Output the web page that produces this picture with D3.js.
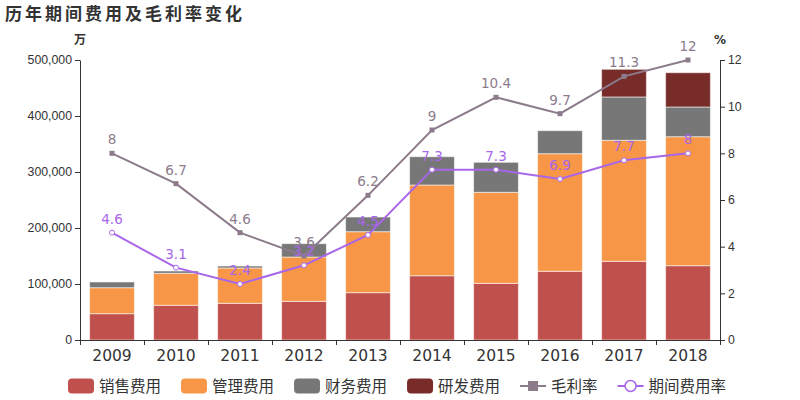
<!DOCTYPE html>
<html><head><meta charset="utf-8">
<script src="https://cdn.jsdelivr.net/npm/d3@7"></script>
<style>body{margin:0;background:#fff}svg{font-family:"DejaVu Sans","Noto Sans CJK SC",sans-serif}</style>
</head><body><svg id="c" width="800" height="400"></svg>
<script>
const years = ["2009","2010","2011","2012","2013","2014","2015","2016","2017","2018"];
const sales = [47000,62000,65500,69000,84500,114800,101200,122700,140500,132700];
const admin = [46400,57100,63100,79200,108900,162000,162500,210000,216100,230300];
const finance = [10200,4100,3500,23800,26200,50500,53600,41100,77400,53100];
const rnd = [0,0,0,0,0,0,0,0,49400,61200];
const grossMargin = [8,6.7,4.6,3.6,6.2,9,10.4,9.7,11.3,12];
const expenseRate = [4.6,3.1,2.4,3.2,4.5,7.3,7.3,6.9,7.7,8];
const leftTicks = [0,100000,200000,300000,400000,500000];
const rightTicks = [0,2,4,6,8,10,12];
const seriesNames = ["销售费用","管理费用","财务费用","研发费用"];
const seriesColors = ["#c0504d","#f79646","#777777","#772c2a"];
const lineNames = ["毛利率","期间费用率"];
const lineColors = ["#8b7b8b","#a866ea"];

const svg = d3.select("#c");
const L=80,R=720,T=60,B=340;
const x = d3.scaleBand().domain(years).range([L,R]).paddingInner(0.3).paddingOuter(0.15);
const y = d3.scaleLinear().domain([0,500000]).range([B,T]);
const y2 = d3.scaleLinear().domain([0,12]).range([B,T]);

svg.append("text").attr("x",5).attr("y",20).attr("font-size",17).attr("font-weight","bold")
  .attr("letter-spacing",3).attr("fill","#333").text("历年期间费用及毛利率变化");
svg.append("text").attr("x",80).attr("y",44).attr("text-anchor","middle").attr("font-size",12).attr("font-weight","bold").attr("fill","#333").text("万");
svg.append("text").attr("x",720).attr("y",44).attr("text-anchor","middle").attr("font-size",12).attr("font-weight","bold").attr("fill","#333").text("%");

// bars
const rows = years.map((yr,i)=>({year:yr,s0:sales[i],s1:admin[i],s2:finance[i],s3:rnd[i]}));
const stack = d3.stack().keys(["s0","s1","s2","s3"])(rows);
stack.forEach((layer,k)=>{
  svg.append("g").selectAll("rect").data(layer.filter(d=>d[1]-d[0]>0)).join("rect")
    .attr("x",d=>x(d.data.year)).attr("width",x.bandwidth())
    .attr("y",d=>y(d[1])).attr("height",d=>y(d[0])-y(d[1]))
    .attr("fill",seriesColors[k]).attr("stroke","#fff").attr("stroke-opacity",0.55).attr("stroke-width",1);
});

// axes
const ax = svg.append("g").attr("transform",`translate(0,${B})`)
  .call(d3.axisBottom(d3.scaleLinear().domain([0,10]).range([L,R])).ticks(10).tickFormat("").tickSizeOuter(0).tickSize(5));
ax.select(".domain").attr("stroke","#333");
ax.selectAll(".tick line").attr("stroke","#333");
svg.append("g").selectAll("text").data(years).join("text")
  .attr("x",d=>x(d)+x.bandwidth()/2).attr("y",361).attr("text-anchor","middle")
  .attr("font-size",15.5).attr("fill","#333").text(d=>d);

const ayl = svg.append("g").attr("transform",`translate(${L},0)`)
  .call(d3.axisLeft(y).tickValues(leftTicks).tickFormat(d3.format(",")).tickSize(5).tickSizeOuter(0));
ayl.selectAll("text").attr("font-size",12.3).attr("fill","#333").attr("font-family",null);
ayl.selectAll("line,.domain").attr("stroke","#333");
const ayr = svg.append("g").attr("transform",`translate(${R},0)`)
  .call(d3.axisRight(y2).tickValues(rightTicks).tickSize(5).tickSizeOuter(0));
ayr.selectAll("text").attr("font-size",12.3).attr("fill","#333").attr("font-family",null);
ayr.selectAll("line,.domain").attr("stroke","#333");

// lines
const cx = d=>x(d)+x.bandwidth()/2;
function drawLine(vals,color,marker){
  const pts = years.map((yr,i)=>[cx(yr),y2(vals[i]),vals[i]]);
  svg.append("path").datum(pts).attr("d",d3.line()).attr("fill","none").attr("stroke",color).attr("stroke-width",2);
  if(marker==="square"){
    svg.append("g").selectAll("rect").data(pts).join("rect")
      .attr("x",d=>d[0]-2.5).attr("y",d=>d[1]-2.5).attr("width",5).attr("height",5).attr("fill",color);
  } else {
    svg.append("g").selectAll("circle").data(pts).join("circle")
      .attr("cx",d=>d[0]).attr("cy",d=>d[1]).attr("r",2.5).attr("fill","#fff").attr("stroke",color).attr("stroke-width",1);
  }
  svg.append("g").selectAll("text").data(pts).join("text")
    .attr("x",d=>d[0]).attr("y",d=>d[1]-9).attr("text-anchor","middle")
    .attr("font-size",13.5).attr("fill",color).text(d=>d[2]);
}
drawLine(grossMargin,lineColors[0],"square");
drawLine(expenseRate,lineColors[1],"circle");

// legend
const lg = svg.append("g");
let lx = 68; const ly = 386;
seriesNames.forEach((n,i)=>{
  lg.append("rect").attr("x",lx).attr("y",ly-7.5).attr("width",26).attr("height",15).attr("rx",4).attr("fill",seriesColors[i]);
  const t = lg.append("text").attr("x",lx+31).attr("y",ly+5.5).attr("font-size",15.5).attr("fill","#333").text(n);
  lx += 31 + t.node().getComputedTextLength() + 20;
});
lineNames.forEach((n,i)=>{
  lg.append("line").attr("x1",lx).attr("x2",lx+26).attr("y1",ly).attr("y2",ly).attr("stroke",lineColors[i]).attr("stroke-width",2);
  if(i===0) lg.append("rect").attr("x",lx+13-5).attr("y",ly-5).attr("width",10).attr("height",10).attr("fill",lineColors[i]);
  else lg.append("circle").attr("cx",lx+13).attr("cy",ly).attr("r",5.5).attr("fill","#fff").attr("stroke",lineColors[i]).attr("stroke-width",1.5);
  const t = lg.append("text").attr("x",lx+31).attr("y",ly+5.5).attr("font-size",15.5).attr("fill","#333").text(n);
  lx += 31 + t.node().getComputedTextLength() + 20;
});
</script></body></html>
